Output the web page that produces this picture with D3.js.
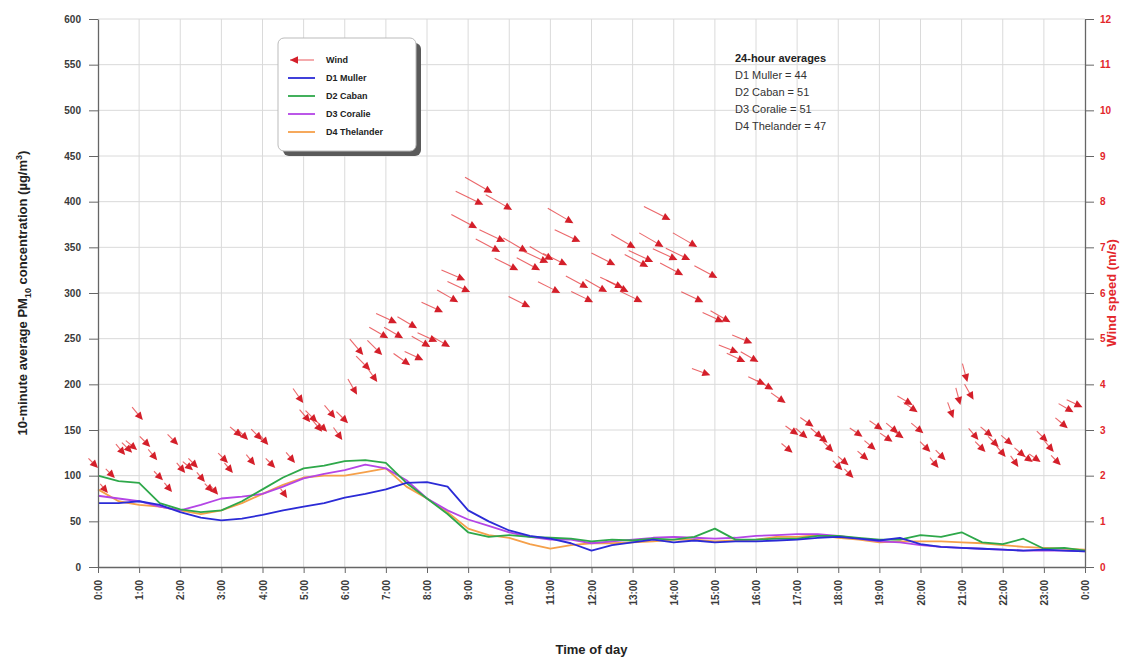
<!DOCTYPE html>
<html>
<head>
<meta charset="utf-8">
<script src="https://cdn.jsdelivr.net/npm/d3@7"></script>
<style>
  html, body { margin: 0; padding: 0; background: #fff; }
  svg { display: block; font-family: "Liberation Sans", Arial, sans-serif; }
</style>
</head>
<body>
<svg id="chart" width="1145" height="661"></svg>
<script>
// Half-hourly time steps (hours since midnight)
const timeOfDay = [0,0.5,1,1.5,2,2.5,3,3.5,4,4.5,5,5.5,6,6.5,7,7.5,8,8.5,9,9.5,10,10.5,11,11.5,12,
  12.5,13,13.5,14,14.5,15,15.5,16,16.5,17,17.5,18,18.5,19,19.5,20,20.5,21,21.5,22,22.5,23,23.5,24];

// 10-minute average PM10 (µg/m³) at each site
const d1Muller = [70,70,72,68,60,54,51,53,57,62,66,70,76,80,85,92,93,88,62,50,40,34,31,26,18,
  24,27,30,27,29,27,28,28,29,30,32,33,31,29,32,25,22,21,20,19,18,19,18,17];
const d2Caban = [100,94,92,70,63,60,62,72,85,98,108,111,116,117,114,92,75,58,38,33,35,33,32,31,28,
  30,29,31,30,33,42,30,30,31,31,34,34,32,30,30,35,33,38,27,25,31,20,21,18];
const d3Coralie = [78,75,72,66,62,68,75,77,80,88,97,102,106,112,108,95,75,62,52,45,38,33,30,30,26,
  28,30,32,33,32,31,32,34,35,36,36,34,31,28,27,24,22,21,20,19,18,18,18,17];
const d4Thelander = [85,72,68,66,62,58,62,70,80,90,98,100,100,104,108,88,75,60,42,35,32,25,20,24,26,
  26,27,28,30,30,28,29,30,33,33,35,32,30,27,28,28,28,27,26,24,22,21,20,19];

// Wind observations: time (h), speed (m/s), direction the wind blows from (degrees)
const windTime = [0.00,0.24,0.41,0.66,0.83,0.95,1.09,1.27,1.44,1.58,1.80,1.95,2.12,2.31,2.43,2.60,2.80,2.92,
  3.16,3.28,3.50,3.65,3.82,3.99,4.14,4.31,4.60,4.79,4.99,5.16,5.33,5.45,5.57,5.77,5.94,6.08,6.30,6.45,6.62,
  6.79,6.91,7.06,7.27,7.42,7.59,7.76,7.91,8.08,8.25,8.56,8.39,8.76,8.93,9.05,9.22,9.37,9.59,9.78,9.90,10.07,
  10.22,10.44,10.51,10.75,10.95,11.07,11.24,11.41,11.56,11.73,11.92,12.04,12.38,12.58,12.77,12.90,13.07,
  13.24,13.38,13.50,13.75,13.92,14.09,14.23,14.40,14.57,14.72,14.89,15.06,15.21,15.38,15.57,15.74,15.91,
  16.06,16.23,16.42,16.72,16.89,17.03,17.25,17.40,17.62,17.74,17.88,18.10,18.25,18.37,18.59,18.73,18.91,
  19.08,19.32,19.46,19.59,19.81,19.93,20.07,20.24,20.44,20.61,20.80,20.97,21.14,21.29,21.41,21.58,21.75,
  21.90,22.07,22.24,22.38,22.55,22.73,22.92,23.09,23.24,23.41,23.58,23.72,23.94];
const windSpeed = [2.17,1.62,1.95,2.45,2.50,2.56,3.22,2.63,2.34,1.90,1.64,2.67,2.06,2.12,2.17,1.86,1.64,1.58,
  2.28,2.06,2.85,2.78,2.23,2.78,2.67,2.17,1.51,2.28,3.59,3.17,3.17,2.96,2.96,3.26,2.78,3.15,3.77,4.64,4.31,
  4.05,4.64,5.01,5.34,5.01,4.42,5.23,4.53,4.82,4.93,4.82,5.58,5.80,6.28,6.02,7.42,7.93,8.19,6.90,7.12,7.82,
  6.50,6.90,5.69,6.50,6.66,6.72,6.00,6.61,7.53,7.12,6.11,5.80,6.02,6.61,6.11,6.02,6.98,
  5.80,6.57,6.68,7.01,7.60,6.72,6.39,6.72,7.01,5.80,4.20,6.33,5.36,5.36,4.69,4.49,4.90,
  4.49,3.99,3.88,3.59,2.50,2.89,2.82,3.07,2.82,2.72,2.52,2.12,2.23,1.95,2.85,2.34,2.56,
  3.00,2.74,2.93,2.82,3.55,3.39,2.93,2.52,2.17,2.34,3.26,3.55,4.05,3.66,2.78,2.52,2.85,
  2.63,2.41,2.67,2.19,2.41,2.30,2.30,2.74,2.52,2.23,3.04,3.39,3.50];
const windDir = [315,320,315,320,315,310,320,315,320,315,320,315,320,310,315,320,315,320,
  315,320,310,315,320,315,320,315,325,320,325,320,315,320,315,320,325,315,330,320,315,
  325,315,300,295,300,305,300,295,300,295,300,295,300,293,295,298,296,300,298,295,300,
  297,300,296,298,295,300,297,296,300,295,298,296,300,297,295,298,300,
  296,298,295,300,297,295,298,296,300,295,290,298,295,300,292,295,292,
  300,295,300,305,310,305,310,305,310,310,315,315,310,315,305,310,
  310,305,305,310,305,300,305,310,315,320,315,340,345,345,330,320,315,
  310,315,320,310,325,310,305,305,315,320,315,310,300,295];

// 24-hour averages (µg/m³)
const siteNames = ["D1 Muller", "D2 Caban", "D3 Coralie", "D4 Thelander"];
const siteAverages = [44, 51, 51, 47];
const siteColors = ["#2b2bd6", "#2ea84a", "#b445e6", "#f5a04a"];
const pmTicks = [0,50,100,150,200,250,300,350,400,450,500,550,600];
const windTicks = [0,1,2,3,4,5,6,7,8,9,10,11,12];
const hourTicks = [0,1,2,3,4,5,6,7,8,9,10,11,12,13,14,15,16,17,18,19,20,21,22,23,24];

const svg = d3.select("#chart");
const plotLeft = 98, plotRight = 1085, plotTop = 19, plotBottom = 567;

const x = d3.scaleLinear().domain([0, 24]).range([plotLeft, plotRight]);
const yPM = d3.scaleLinear().domain([0, 600]).range([plotBottom, plotTop]);
const yWind = d3.scaleLinear().domain([0, 12]).range([plotBottom, plotTop]);
const arrowLen = d3.scaleLinear().domain([0, 12]).range([7, 43]);

const axisColor = "#666";
const windRed = "#e3262b";
const headRed = "#d41f2a";

// Gridlines
const grid = svg.append("g").attr("class", "grid");
grid.selectAll("line.h").data(pmTicks.filter(d => d > 0)).join("line")
  .attr("x1", plotLeft).attr("x2", plotRight)
  .attr("y1", d => yPM(d)).attr("y2", d => yPM(d))
  .attr("stroke", "#dadada").attr("stroke-width", 1);
grid.selectAll("line.v").data(hourTicks.filter(d => d > 0 && d < 24)).join("line")
  .attr("x1", d => x(d)).attr("x2", d => x(d))
  .attr("y1", plotTop).attr("y2", plotBottom)
  .attr("stroke", "#dadada").attr("stroke-width", 1);

// PM10 series
const series = [d1Muller, d2Caban, d3Coralie, d4Thelander];
const line = d3.line().x((d, i) => x(timeOfDay[i])).y(d => yPM(d));
const drawOrder = [3, 2, 1, 0];
svg.append("g").selectAll("path").data(drawOrder).join("path")
  .attr("d", k => line(series[k]))
  .attr("fill", "none")
  .attr("stroke", k => siteColors[k])
  .attr("stroke-width", 1.8)
  .attr("stroke-linejoin", "round");

// Wind vectors: arrow ends at the observation point
function arrowParts(px, py, fromDeg, len) {
  const toRad = (fromDeg + 180) * Math.PI / 180;
  const dx = Math.sin(toRad), dy = -Math.cos(toRad);
  const tx = px - dx * len, ty = py - dy * len;
  const hl = 8, hw = 3.8;
  const bx = px - dx * hl, by = py - dy * hl;
  const nx = -dy, ny = dx;
  return {
    shaft: [tx, ty, bx, by],
    head: `M${px},${py}L${bx + nx * hw},${by + ny * hw}L${bx - nx * hw},${by - ny * hw}Z`
  };
}
const windData = windTime.map((t, i) => ({ t, s: windSpeed[i], dir: windDir[i] }));
const wind = svg.append("g").attr("class", "wind");
windData.forEach(d => {
  const p = arrowParts(x(d.t), yWind(d.s), d.dir, arrowLen(d.s));
  wind.append("line")
    .attr("x1", p.shaft[0]).attr("y1", p.shaft[1])
    .attr("x2", p.shaft[2]).attr("y2", p.shaft[3])
    .attr("stroke", windRed).attr("stroke-width", 1.1).attr("stroke-opacity", 0.7);
  wind.append("path").attr("d", p.head).attr("fill", headRed);
});

// Axes
function styleAxis(g, color, textColor) {
  g.select(".domain").attr("stroke", color).attr("stroke-width", 1.3);
  g.selectAll(".tick line").attr("stroke", color).attr("stroke-width", 1);
  g.selectAll(".tick text").attr("fill", textColor)
    .attr("font-size", 10).attr("font-weight", "bold");
}
const leftAxis = svg.append("g").attr("transform", `translate(${plotLeft},0)`)
  .call(d3.axisLeft(yPM).tickValues(pmTicks).tickSize(9).tickPadding(8).tickSizeOuter(0));
styleAxis(leftAxis, axisColor, "#3a3a3a");

const rightAxis = svg.append("g").attr("transform", `translate(${plotRight},0)`)
  .call(d3.axisRight(yWind).tickValues(windTicks).tickSize(9).tickPadding(6).tickSizeOuter(0));
styleAxis(rightAxis, axisColor, windRed);

const bottomAxis = svg.append("g").attr("transform", `translate(0,${plotBottom})`)
  .call(d3.axisBottom(x).tickValues(hourTicks).tickSize(6).tickSizeOuter(0)
    .tickFormat(h => `${h % 24}:00`));
styleAxis(bottomAxis, axisColor, "#3a3a3a");
bottomAxis.selectAll(".tick text")
  .attr("text-anchor", "end")
  .attr("dy", "0.35em")
  .attr("transform", "translate(0,13) rotate(-90)")
  .attr("x", 0).attr("y", 0);

// Axis titles
const leftTitle = svg.append("text")
  .attr("transform", `translate(27,${(plotTop + plotBottom) / 2}) rotate(-90)`)
  .attr("text-anchor", "middle")
  .attr("font-size", 13).attr("font-weight", "bold").attr("fill", "#222");
leftTitle.append("tspan").text("10-minute average PM");
leftTitle.append("tspan").attr("font-size", 9).attr("dy", 4).text("10");
leftTitle.append("tspan").attr("dy", -4).text(" concentration (µg/m");
leftTitle.append("tspan").attr("font-size", 9).attr("dy", -5).text("3");
leftTitle.append("tspan").attr("dy", 5).text(")");

svg.append("text")
  .attr("transform", `translate(1116,${(plotTop + plotBottom) / 2}) rotate(-90)`)
  .attr("text-anchor", "middle")
  .attr("font-size", 13).attr("font-weight", "bold").attr("fill", windRed)
  .text("Wind speed (m/s)");

svg.append("text")
  .attr("x", (plotLeft + plotRight) / 2).attr("y", 654)
  .attr("text-anchor", "middle")
  .attr("font-size", 13).attr("font-weight", "bold").attr("fill", "#222")
  .text("Time of day");

// 24-hour averages note
const note = svg.append("g").attr("transform", "translate(735,0)");
note.append("text").attr("y", 62).attr("font-size", 11).attr("font-weight", "bold")
  .attr("fill", "#222").text("24-hour averages");
siteNames.forEach((n, i) => {
  note.append("text").attr("y", 79 + i * 17).attr("font-size", 11).attr("fill", "#333")
    .text(`${n} = ${siteAverages[i]}`);
});

// Legend
const lg = svg.append("g").attr("transform", "translate(278,38)");
lg.append("rect").attr("x", 5).attr("y", 5).attr("width", 138).attr("height", 113)
  .attr("rx", 6).attr("fill", "#5a5a5a");
lg.append("rect").attr("x", 0).attr("y", 0).attr("width", 138).attr("height", 113)
  .attr("rx", 6).attr("fill", "#fff").attr("stroke", "#bbb");
const rowY = [22, 40, 58, 76, 94];
lg.append("line").attr("x1", 12).attr("x2", 36).attr("y1", rowY[0]).attr("y2", rowY[0])
  .attr("stroke", windRed).attr("stroke-width", 1.1).attr("stroke-opacity", 0.7);
lg.append("path").attr("d", `M12,${rowY[0]}L20,${rowY[0] - 3.8}L20,${rowY[0] + 3.8}Z`).attr("fill", headRed);
lg.append("text").attr("x", 48).attr("y", rowY[0] + 3).attr("font-size", 9)
  .attr("font-weight", "bold").attr("fill", "#222").text("Wind");
siteNames.forEach((n, i) => {
  const yy = rowY[i + 1];
  lg.append("line").attr("x1", 10).attr("x2", 37).attr("y1", yy).attr("y2", yy)
    .attr("stroke", siteColors[i]).attr("stroke-width", 1.8);
  lg.append("text").attr("x", 48).attr("y", yy + 3).attr("font-size", 9)
    .attr("font-weight", "bold").attr("fill", "#222").text(n);
});
</script>
</body>
</html>
